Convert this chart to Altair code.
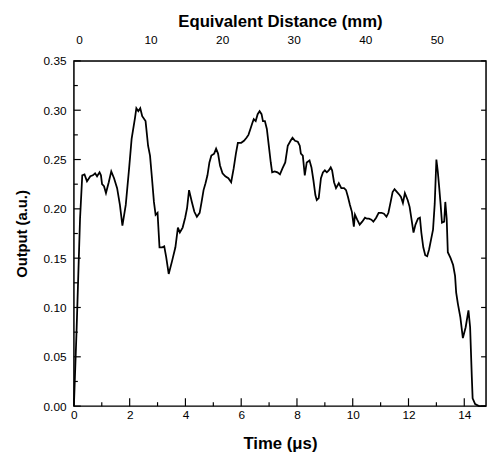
import altair as alt
import pandas as pd

# ---- data ----
time_us = [0.00, 0.10, 0.22, 0.30, 0.38, 0.47, 0.59, 0.68, 0.76, 0.83, 0.92, 0.97,
           1.01, 1.08, 1.15, 1.25, 1.34, 1.44, 1.55, 1.65, 1.74, 1.86, 1.98,
           2.07, 2.19, 2.24, 2.31, 2.38, 2.45, 2.57, 2.66, 2.73, 2.80, 2.87, 2.93,
           3.00, 3.07, 3.17, 3.24, 3.31, 3.40, 3.52, 3.64, 3.73, 3.80, 3.90, 3.99,
           4.06, 4.13, 4.23, 4.32, 4.41, 4.51, 4.58, 4.65, 4.72, 4.79, 4.86, 4.93,
           5.03, 5.10, 5.17, 5.24, 5.33, 5.43, 5.54, 5.64, 5.73, 5.81, 5.88,
           6.00, 6.10, 6.19, 6.26, 6.33, 6.40, 6.45, 6.52, 6.59, 6.66, 6.73, 6.78, 6.85, 6.92, 6.99,
           7.06, 7.11, 7.20, 7.30, 7.39, 7.48, 7.58, 7.67, 7.77, 7.84, 7.93,
           8.03, 8.10, 8.14, 8.21, 8.28, 8.35, 8.45, 8.52, 8.59, 8.66, 8.71, 8.78, 8.86, 8.93,
           9.00, 9.07, 9.14, 9.21, 9.26, 9.33, 9.40, 9.50, 9.59, 9.69, 9.76, 9.83, 9.90, 9.97,
           10.04, 10.08, 10.16, 10.25, 10.34, 10.44, 10.51, 10.58, 10.67, 10.74, 10.84, 10.93,
           11.03, 11.12, 11.21, 11.28, 11.36, 11.43, 11.50, 11.59, 11.68, 11.73, 11.80, 11.87, 11.97,
           12.04, 12.11, 12.18, 12.25, 12.34, 12.41, 12.46, 12.53, 12.60, 12.67, 12.74, 12.81, 12.88, 12.94,
           13.00, 13.05, 13.10, 13.15, 13.20, 13.28, 13.32, 13.37, 13.41, 13.51, 13.60, 13.67, 13.71, 13.77, 13.86, 13.95,
           14.05, 14.15, 14.21, 14.27, 14.30, 14.39, 14.53, 14.78]
output_au = [0.000, 0.080, 0.190, 0.234, 0.235, 0.228, 0.233, 0.234, 0.236, 0.233, 0.237, 0.234,
             0.225, 0.223, 0.216, 0.227, 0.238, 0.231, 0.221, 0.204, 0.183, 0.204, 0.241,
             0.271, 0.292, 0.302, 0.299, 0.302, 0.294, 0.289, 0.264, 0.254, 0.231, 0.207, 0.194,
             0.196, 0.161, 0.161, 0.162, 0.151, 0.134, 0.147, 0.161, 0.181, 0.176, 0.181, 0.191,
             0.201, 0.219, 0.207, 0.197, 0.192, 0.196, 0.207, 0.219, 0.226, 0.234, 0.247, 0.254,
             0.256, 0.261, 0.256, 0.244, 0.236, 0.233, 0.231, 0.227, 0.241, 0.256, 0.267,
             0.267, 0.269, 0.272, 0.275, 0.281, 0.287, 0.291, 0.289, 0.296, 0.299, 0.296, 0.289, 0.289, 0.281, 0.264,
             0.247, 0.237, 0.238, 0.237, 0.235, 0.241, 0.247, 0.264, 0.269, 0.272, 0.269,
             0.268, 0.264, 0.256, 0.254, 0.234, 0.247, 0.249, 0.242, 0.229, 0.214, 0.209, 0.211, 0.231, 0.237,
             0.239, 0.237, 0.239, 0.242, 0.239, 0.227, 0.221, 0.226, 0.221, 0.221, 0.219, 0.212, 0.204, 0.197,
             0.182, 0.194, 0.189, 0.184, 0.187, 0.191, 0.190, 0.190, 0.189, 0.187, 0.191, 0.196,
             0.196, 0.195, 0.192, 0.196, 0.207, 0.217, 0.220, 0.217, 0.214, 0.212, 0.206, 0.216, 0.209,
             0.202, 0.189, 0.176, 0.184, 0.190, 0.191, 0.176, 0.161, 0.153, 0.152, 0.159, 0.169, 0.179, 0.205,
             0.250, 0.238, 0.222, 0.205, 0.186, 0.187, 0.207, 0.190, 0.156, 0.150, 0.143, 0.132, 0.115, 0.104, 0.090, 0.069,
             0.080, 0.097, 0.080, 0.030, 0.008, 0.002, 0.000, 0.000]

x_major = [0, 2, 4, 6, 8, 10, 12, 14]
x_minor = [1, 3, 5, 7, 9, 11, 13]
y_major = [0.00, 0.05, 0.10, 0.15, 0.20, 0.25, 0.30, 0.35]
y_minor = [0.025, 0.075, 0.125, 0.175, 0.225, 0.275, 0.325]
top_mm = [0, 10, 20, 30, 40, 50]

x_domain = [0, 14.78]
mm_domain = [-0.72, 56.88]
y_domain = [0, 0.35]

W, H = 419, 351
FONT = "Liberation Sans"

df = pd.DataFrame({"t": time_us, "v": output_au})
xs = alt.Scale(domain=x_domain, nice=False, zero=False)
ys = alt.Scale(domain=y_domain, nice=False)

y_axis = alt.Axis(
    values=y_major, format=".2f", title="Output (a.u.)", ticks=False, tickSize=0,
    domain=False, grid=False, labelPadding=8, titlePadding=14,
    labelFontSize=12, titleFontSize=15, labelFlush=False)

line = alt.Chart(df).mark_line(color="black", strokeWidth=1.8).encode(
    x=alt.X("t:Q", scale=xs, axis=alt.Axis(
        values=x_major, title="Time (μs)", ticks=False, tickSize=0, domain=False, grid=False,
        labelPadding=4, titlePadding=15, labelFontSize=12, titleFontSize=17,
        labelFlush=False)),
    y=alt.Y("v:Q", scale=ys, axis=y_axis, title="Output (a.u.)"),
)

def xticks(vals, length):
    d = pd.DataFrame({"t": vals})
    return alt.Chart(d).mark_rule(color="black", strokeWidth=1.2).encode(
        x=alt.X("t:Q", scale=xs, axis=None),
        y=alt.value(H), y2=alt.value(H - length))

def yticks(vals, length, right=False):
    d = pd.DataFrame({"v": vals})
    x0 = W if right else 0
    x1 = W - length if right else length
    return alt.Chart(d).mark_rule(color="black", strokeWidth=1.2).encode(
        y=alt.Y("v:Q", scale=ys, axis=y_axis, title="Output (a.u.)"),
        x=alt.value(x0), x2=alt.value(x1))

frame = alt.Chart(pd.DataFrame({"k": [0]})).mark_rect(
    fill=None, stroke="black", strokeWidth=1.5
).encode(x=alt.value(0), x2=alt.value(W), y=alt.value(0), y2=alt.value(H))

top = alt.Chart(pd.DataFrame({"mm": top_mm})).mark_point(opacity=0).encode(
    x=alt.X("mm:Q", scale=alt.Scale(domain=mm_domain, nice=False, zero=False),
            axis=alt.Axis(orient="top", values=top_mm, title="Equivalent Distance (mm)",
                          ticks=False, tickSize=0, domain=False, grid=False,
                          labelPadding=15, titlePadding=3, labelFontSize=12,
                          titleFontSize=17, labelFlush=False)),
    y=alt.value(0),
)

chart = alt.layer(
    frame,
    line,
    xticks(x_major, 8), xticks(x_minor, 4),
    yticks(y_major, 7), yticks(y_minor, 4),
    yticks(y_major, 5, right=True),
    top,
).resolve_scale(x="independent").properties(
    width=W, height=H,
    padding={"left": 67, "top": 50, "right": 1, "bottom": 51},
    autosize=alt.AutoSizeParams(type="none"),
).configure_view(
    stroke=None
).configure_axis(
    labelFont=FONT, titleFont=FONT, labelColor="black", titleColor="black",
    titleFontWeight="bold"
).configure(background="white")

chart.save("out.html", embed_options={"renderer": "svg", "actions": False})
